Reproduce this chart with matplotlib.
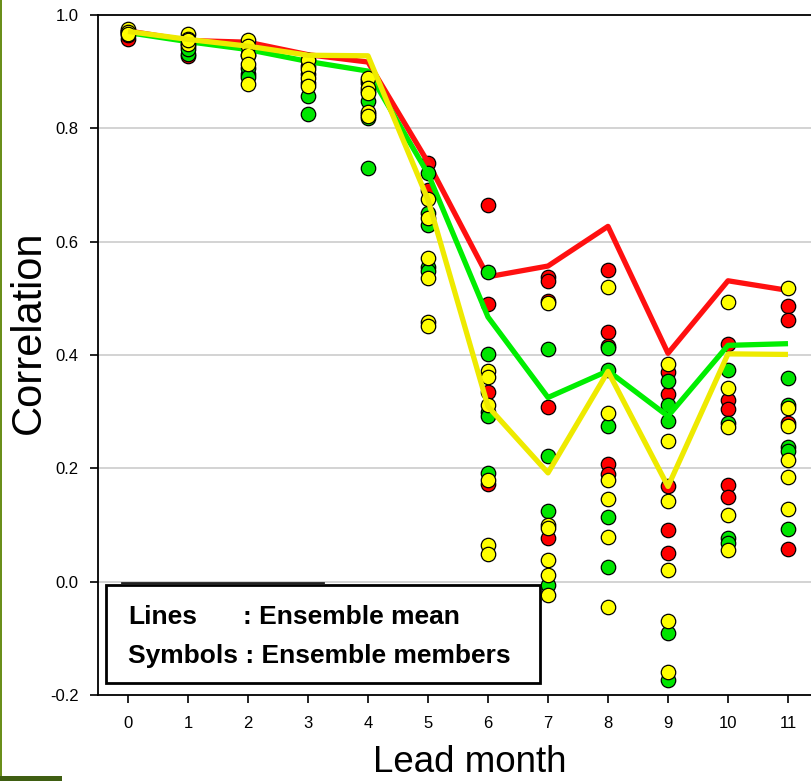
import matplotlib
matplotlib.use("Agg")
import matplotlib.pyplot as plt
from matplotlib.patches import Rectangle
from matplotlib.lines import Line2D

plt.rcParams['font.family'] = ['Liberation Sans', 'DejaVu Sans']

lead = list(range(12))

# Ensemble-mean correlation lines
mean_red = [0.972, 0.955, 0.952, 0.930, 0.917, 0.740, 0.538, 0.557, 0.627, 0.403, 0.531, 0.514]
mean_green = [0.969, 0.953, 0.939, 0.918, 0.901, 0.720, 0.467, 0.325, 0.372, 0.292, 0.417, 0.420]
mean_yellow = [0.971, 0.957, 0.945, 0.929, 0.928, 0.674, 0.309, 0.192, 0.371, 0.168, 0.402, 0.401]

# Ensemble members (one list per lead month)
members_red = [
    [0.957, 0.965, 0.972],
    [0.928, 0.945, 0.955],
    [0.950, 0.930, 0.895],
    [0.910, 0.880],
    [0.880, 0.825],
    [0.739, 0.692],
    [0.665, 0.490, 0.334, 0.173],
    [0.537, 0.530, 0.495, 0.308, 0.077],
    [0.550, 0.440, 0.415, 0.208, 0.190],
    [0.370, 0.331, 0.168, 0.092, 0.051],
    [0.420, 0.321, 0.305, 0.171, 0.149],
    [0.486, 0.461, 0.280, 0.058],
]
members_green = [
    [0.968, 0.972],
    [0.932, 0.940, 0.950],
    [0.940, 0.907, 0.890],
    [0.921, 0.895, 0.857, 0.825],
    [0.885, 0.865, 0.848, 0.819, 0.730],
    [0.721, 0.650, 0.630, 0.555, 0.549],
    [0.547, 0.401, 0.300, 0.293, 0.192],
    [0.411, 0.221, 0.125, -0.005],
    [0.412, 0.374, 0.274, 0.115, 0.026],
    [0.354, 0.312, 0.283, -0.091, -0.173],
    [0.373, 0.280, 0.077, 0.068],
    [0.360, 0.312, 0.238, 0.230, 0.093],
]
members_yellow = [
    [0.975, 0.970, 0.966],
    [0.966, 0.958, 0.948, 0.955],
    [0.955, 0.946, 0.930, 0.914, 0.879],
    [0.921, 0.904, 0.889, 0.874],
    [0.889, 0.872, 0.862, 0.829, 0.822],
    [0.676, 0.641, 0.572, 0.535, 0.458, 0.452],
    [0.371, 0.362, 0.312, 0.180, 0.065, 0.049],
    [0.492, 0.100, 0.095, 0.038, 0.011, -0.024],
    [0.520, 0.298, 0.179, 0.145, 0.078, -0.044],
    [0.384, 0.248, 0.142, 0.021, -0.069, -0.160],
    [0.493, 0.341, 0.273, 0.117, 0.056],
    [0.519, 0.307, 0.274, 0.215, 0.185, 0.129],
]

yticks = [-0.2, 0.0, 0.2, 0.4, 0.6, 0.8, 1.0]
ytick_labels = ["-0.2", "0.0", "0.2", "0.4", "0.6", "0.8", "1.0"]

W, H = 811, 781
fig = plt.figure(figsize=(W / 100, H / 100), dpi=100)
ax = fig.add_axes([98 / W, 1 - 695 / H, (W - 98) / W, (695 - 15) / H])

series = [
    (members_red, mean_red, '#ff0000', '#ff1010'),
    (members_green, mean_green, '#00e600', '#00ee00'),
    (members_yellow, mean_yellow, '#ffff00', '#eeea00'),
]
z = 3
for members, mean, pcol, lcol in series:
    xs, ys = [], []
    for i, vals in enumerate(members):
        for v in vals:
            xs.append(lead[i])
            ys.append(v)
    ax.scatter(xs, ys, s=108, c=pcol, edgecolors='black', linewidths=0.9, zorder=z)
    ax.plot(lead, mean, color=lcol, lw=3.8, zorder=z + 1, solid_capstyle='butt')
    z += 2

ax.set_xlim(-0.5, (W - 128) / 60)
ax.set_ylim(-0.2, 1.0)
ax.set_xticks(lead)
ax.set_xticklabels([str(v) for v in lead], fontsize=12)
ax.set_yticks(yticks)
ax.set_yticklabels(ytick_labels, fontsize=12)
for g in [0.0, 0.2, 0.4, 0.6, 0.8]:
    ax.axhline(g, color='#cccccc', lw=1.2, zorder=1)
ax.tick_params(axis='x', direction='out', length=6, width=1.2, pad=9, colors='black')
ax.tick_params(axis='y', direction='out', length=6, width=1.2, pad=8, colors='black')
ax.spines['right'].set_visible(False)
for s in ['left', 'bottom', 'top']:
    ax.spines[s].set_linewidth(1.3)

def fx(px):
    return px / W

def fy(py):
    return 1 - py / H

fig.text(fx(29), fy(332), "Correlation", rotation=90, ha='center', va='center', fontsize=30)
fig.text(fx(470), fy(762), "Lead month", ha='center', va='center', fontsize=26.5)

# Legend-like annotation box
fig.add_artist(Rectangle((fx(106), fy(683)), (540 - 106) / W, (683 - 585) / H,
                         transform=fig.transFigure, fill=True, facecolor='white',
                         edgecolor='black', lw=2, zorder=10))
fig.add_artist(Line2D([fx(122), fx(323)], [fy(583), fy(583)], transform=fig.transFigure,
                      color='#222222', lw=2, zorder=10))
fig.text(fx(128), fy(617), "Lines", ha='left', va='center', fontsize=19, fontweight='bold', zorder=11)
fig.text(fx(243), fy(617), ": Ensemble mean", ha='left', va='center', fontsize=19, fontweight='bold', zorder=11)
fig.text(fx(128), fy(656), "Symbols : Ensemble members", ha='left', va='center', fontsize=19,
         fontweight='bold', zorder=11)

# Left edge strip and bottom-left block
fig.add_artist(Rectangle((0, 0), 2 / W, 1, transform=fig.transFigure, facecolor='#6a8f1a',
                         edgecolor='none', zorder=12))
fig.add_artist(Rectangle((0, 0), 62 / W, 5 / H, transform=fig.transFigure, facecolor='#3f5e12',
                         edgecolor='none', zorder=12))

fig.savefig("out.png", dpi=100)
